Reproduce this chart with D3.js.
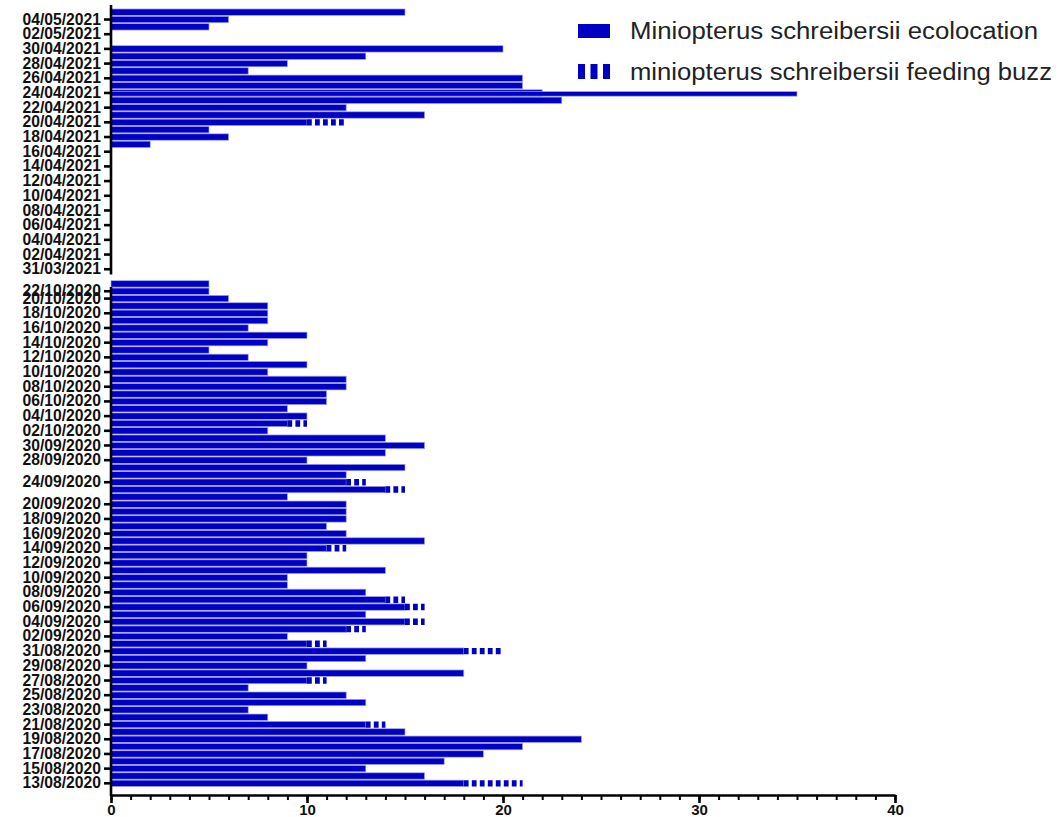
<!DOCTYPE html>
<html>
<head>
<meta charset="utf-8">
<script src="https://cdn.jsdelivr.net/npm/d3@7"></script>
<style>
  html, body { margin: 0; padding: 0; background: #fff; }
  svg { display: block; font-family: "Liberation Sans", Arial, sans-serif; }
</style>
</head>
<body>
<svg id="chart" width="1061" height="817"></svg>
<script>
// Recording nights, 2020 season (13/08 - 23/10), bottom to top
const dates2020 = [
  "13/08/2020","14/08/2020","15/08/2020","16/08/2020","17/08/2020","18/08/2020","19/08/2020","20/08/2020",
  "21/08/2020","22/08/2020","23/08/2020","24/08/2020","25/08/2020","26/08/2020","27/08/2020","28/08/2020",
  "29/08/2020","30/08/2020","31/08/2020","01/09/2020","02/09/2020","03/09/2020","04/09/2020","05/09/2020",
  "06/09/2020","07/09/2020","08/09/2020","09/09/2020","10/09/2020","11/09/2020","12/09/2020","13/09/2020",
  "14/09/2020","15/09/2020","16/09/2020","17/09/2020","18/09/2020","19/09/2020","20/09/2020","21/09/2020",
  "23/09/2020","24/09/2020","25/09/2020","27/09/2020","28/09/2020","29/09/2020","30/09/2020","01/10/2020",
  "02/10/2020","03/10/2020","04/10/2020","05/10/2020","06/10/2020","07/10/2020","08/10/2020","09/10/2020",
  "10/10/2020","11/10/2020","12/10/2020","13/10/2020","14/10/2020","15/10/2020","16/10/2020","17/10/2020",
  "18/10/2020","19/10/2020","20/10/2020","22/10/2020","23/10/2020"
];
const ecolocation2020 = [
  18,16,13,17,19,21,24,15,
  13,8,7,13,12,7,10,18,
  10,13,18,10,9,12,15,13,
  15,14,13,9,9,14,10,10,
  11,16,12,11,12,12,12,9,
  14,12,12,15,10,14,16,14,
  8,9,10,9,11,11,12,12,
  8,10,7,5,8,10,7,8,
  8,8,6,5,5
];
const feedingBuzz2020 = [
  3,0,0,0,0,0,0,0,
  1,0,0,0,0,0,1,0,
  0,0,2,1,0,1,1,0,
  1,1,0,0,0,0,0,0,
  1,0,0,0,0,0,0,0,
  1,1,0,0,0,0,0,0,
  0,1,0,0,0,0,0,0,
  0,0,0,0,0,0,0,0,
  0,0,0,0,0
];

// Recording nights, 2021 season (31/03 - 05/05), bottom to top
const dates2021 = [
  "31/03/2021","01/04/2021","02/04/2021","03/04/2021","04/04/2021","05/04/2021","06/04/2021","07/04/2021",
  "08/04/2021","09/04/2021","10/04/2021","11/04/2021","12/04/2021","13/04/2021","14/04/2021","15/04/2021",
  "16/04/2021","17/04/2021","18/04/2021","19/04/2021","20/04/2021","21/04/2021","22/04/2021","23/04/2021",
  "24/04/2021","25/04/2021","26/04/2021","27/04/2021","28/04/2021","29/04/2021","30/04/2021","01/05/2021",
  "02/05/2021","03/05/2021","04/05/2021","05/05/2021"
];
const ecolocation2021 = [
  0,0,0,0,0,0,0,0,
  0,0,0,0,0,0,0,0,
  0,2,6,5,10,16,12,23,
  22,21,21,7,9,13,20,0,
  0,5,6,15
];
const feedingBuzz2021 = [
  0,0,0,0,0,0,0,0,
  0,0,0,0,0,0,0,0,
  0,0,0,0,2,0,0,0,
  0,0,0,0,0,0,0,0,
  0,0,0,0
];

// Second entry recorded for the same night
const repeatedNights = [{ date: "24/04/2021", value: 35 }];

// Labelled ticks on the date axis
const tickLabels = [
  "04/05/2021","02/05/2021","30/04/2021","28/04/2021","26/04/2021","24/04/2021","22/04/2021","20/04/2021",
  "18/04/2021","16/04/2021","14/04/2021","12/04/2021","10/04/2021","08/04/2021","06/04/2021","04/04/2021",
  "02/04/2021","31/03/2021",
  "22/10/2020","20/10/2020","18/10/2020","16/10/2020","14/10/2020","12/10/2020","10/10/2020","08/10/2020",
  "06/10/2020","04/10/2020","02/10/2020","30/09/2020","28/09/2020","24/09/2020","20/09/2020","18/09/2020",
  "16/09/2020","14/09/2020","12/09/2020","10/09/2020","08/09/2020","06/09/2020","04/09/2020","02/09/2020",
  "31/08/2020","29/08/2020","27/08/2020","25/08/2020","23/08/2020","21/08/2020","19/08/2020","17/08/2020",
  "15/08/2020","13/08/2020"
];
const valueTicks = [0, 10, 20, 30, 40];

const seriesNames = ["Miniopterus schreibersii ecolocation", "miniopterus schreibersii feeding buzz"];

// ---- layout ----
const BLUE = "#0000c4";
const EDGE = "#a3a3e8";
const GAP_KEY = "__gap__";

const rows = [];
dates2020.forEach((d, i) => rows.push({ date: d, eco: ecolocation2020[i], buzz: feedingBuzz2020[i] }));
dates2021.forEach((d, i) => rows.push({ date: d, eco: ecolocation2021[i], buzz: feedingBuzz2021[i] }));

// top-to-bottom band order, with one empty band separating the two seasons
const domain = [...dates2021].reverse().concat([GAP_KEY], [...dates2020].reverse());

const svg = d3.select("#chart");

const x = d3.scaleLinear().domain([0, 40]).range([111, 895]);
const y = d3.scaleBand().domain(domain).range([8.5, 787]).paddingInner(0.13).paddingOuter(0.065);
const bh = y.bandwidth();

const bars = svg.append("g");

// ecolocation bars
bars.selectAll("rect.eco")
  .data(rows.filter(r => r.eco > 0))
  .join("rect")
  .attr("class", "eco")
  .attr("x", x(0))
  .attr("y", r => y(r.date))
  .attr("width", r => x(r.eco) - x(0))
  .attr("height", bh)
  .attr("fill", BLUE)
  .attr("stroke", EDGE)
  .attr("stroke-width", 0.7);

// repeated night entry, drawn over the first one
bars.selectAll("rect.rep")
  .data(repeatedNights)
  .join("rect")
  .attr("class", "rep")
  .attr("x", x(0))
  .attr("y", r => y(r.date) + 1.8)
  .attr("width", r => x(r.value) - x(0))
  .attr("height", bh - 1.8)
  .attr("fill", BLUE)
  .attr("stroke", EDGE)
  .attr("stroke-width", 0.7);

// feeding buzz segments stacked on the ecolocation bars, striped
bars.selectAll("line.buzz")
  .data(rows.filter(r => r.buzz > 0))
  .join("line")
  .attr("class", "buzz")
  .attr("x1", r => x(r.eco))
  .attr("x2", r => x(r.eco + r.buzz))
  .attr("y1", r => y(r.date) + bh / 2)
  .attr("y2", r => y(r.date) + bh / 2)
  .attr("stroke", BLUE)
  .attr("stroke-width", bh)
  .attr("stroke-dasharray", "4.8,3.2");

// ---- axes ----
const AXIS_W = 2.6;
const LABEL_FONT = "'Liberation Sans', Arial, sans-serif";

const yAxis = d3.axisLeft(y).tickValues(tickLabels).tickSize(7).tickPadding(3);
const gy = svg.append("g").attr("transform", `translate(${x(0)},0)`).call(yAxis);
gy.select(".domain").remove();
gy.selectAll(".tick line").attr("stroke", "#000").attr("stroke-width", AXIS_W);
gy.selectAll(".tick text")
  .attr("fill", "#111")
  .style("font-size", "15.7px")
  .style("font-weight", "bold")
  .style("font-family", LABEL_FONT);

// date axis line, broken between the two seasons
const breakTop = y("31/03/2021") + bh + 2;
const breakBottom = y("22/10/2020") - 1;
const ySegments = [[5, breakTop], [breakBottom, 796]];
svg.append("g").selectAll("line")
  .data(ySegments)
  .join("line")
  .attr("x1", x(0)).attr("x2", x(0))
  .attr("y1", d => d[0]).attr("y2", d => d[1])
  .attr("stroke", "#000").attr("stroke-width", AXIS_W);

const xBase = 795;
const xMinor = d3.axisBottom(x).tickValues(d3.range(0, 41, 1)).tickSize(5).tickFormat("");
const gxm = svg.append("g").attr("transform", `translate(0,${xBase})`).call(xMinor);
gxm.select(".domain").remove();
gxm.selectAll(".tick line").attr("stroke", "#000").attr("stroke-width", 2);

const xAxis = d3.axisBottom(x).tickValues(valueTicks).tickSize(8).tickPadding(1.5).tickSizeOuter(0);
const gx = svg.append("g").attr("transform", `translate(0,${xBase})`).call(xAxis);
gx.select(".domain").attr("stroke", "#000").attr("stroke-width", AXIS_W);
gx.selectAll(".tick line").attr("stroke", "#000").attr("stroke-width", AXIS_W);
gx.selectAll(".tick text")
  .attr("fill", "#111")
  .style("font-size", "15px")
  .style("font-weight", "bold")
  .style("font-family", LABEL_FONT);

// ---- legend ----
const legend = svg.append("g").attr("transform", "translate(578,0)");
legend.append("rect").attr("x", 0).attr("y", 24).attr("width", 32).attr("height", 14).attr("fill", BLUE);
legend.selectAll("rect.stripe")
  .data([0, 12.5, 25])
  .join("rect")
  .attr("class", "stripe")
  .attr("x", d => d).attr("y", 64).attr("width", 7).attr("height", 15)
  .attr("fill", BLUE);

const legendText = [
  { label: seriesNames[0], y: 31, len: 408 },
  { label: seriesNames[1], y: 72, len: 422 }
];
legend.selectAll("text")
  .data(legendText)
  .join("text")
  .attr("x", 52)
  .attr("y", d => d.y)
  .attr("dy", "0.35em")
  .attr("textLength", d => d.len)
  .attr("lengthAdjust", "spacingAndGlyphs")
  .attr("fill", "#222")
  .style("font-size", "23px")
  .text(d => d.label);
</script>
</body>
</html>
